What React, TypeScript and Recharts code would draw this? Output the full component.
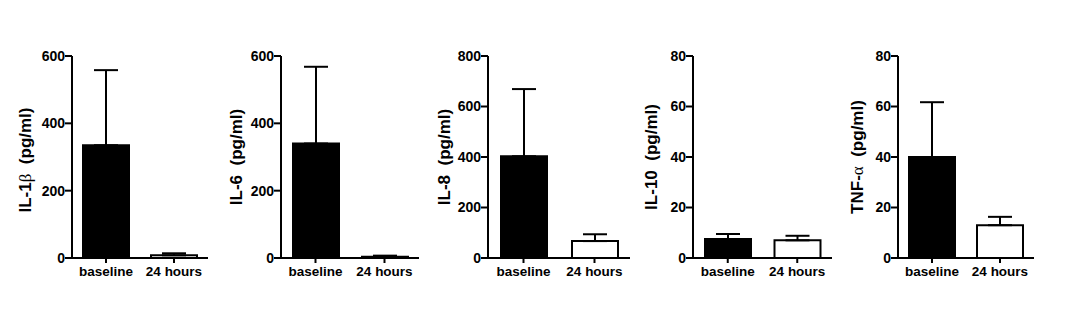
import { BarChart, Bar, XAxis, YAxis, ErrorBar, Cell, Label } from 'recharts';

const groups = ['baseline', '24 hours'];
const fills = ['#000000', '#ffffff'];

const il1bMean = [335, 8];
const il1bSem = [223, 6];
const il6Mean = [340, 4];
const il6Sem = [228, 3];
const il8Mean = [403, 67];
const il8Sem = [266, 27];
const il10Mean = [7.5, 7.0];
const il10Sem = [2.0, 1.8];
const tnfMean = [40, 13];
const tnfSem = [21.7, 3.3];

const ticks600 = [0, 200, 400, 600];
const ticks800 = [0, 200, 400, 600, 800];
const ticks80 = [0, 20, 40, 60, 80];

const font = '"Liberation Sans", Arial, sans-serif';

const panels = [
  { name: 'IL-1', greek: 'β', mean: il1bMean, sem: il1bSem, ticks: ticks600, axisX: 71.7, plotW: 136, labelOff: 47, labelDy: 3 },
  { name: 'IL-6', greek: '', mean: il6Mean, sem: il6Sem, ticks: ticks600, axisX: 281, plotW: 138, labelOff: 45, labelDy: 0 },
  { name: 'IL-8', greek: '', mean: il8Mean, sem: il8Sem, ticks: ticks800, axisX: 488.3, plotW: 142, labelOff: 44, labelDy: 0 },
  { name: 'IL-10', greek: '', mean: il10Mean, sem: il10Sem, ticks: ticks80, axisX: 693.3, plotW: 139, labelOff: 42, labelDy: 0 },
  { name: 'TNF-', greek: 'α', mean: tnfMean, sem: tnfSem, ticks: ticks80, axisX: 898.3, plotW: 136, labelOff: 41, labelDy: 0 },
];

const AXIS_W = 70;
const TOP = 56;
const H = 319;
const X_H = 30;
const BOTTOM = H - 258 - X_H;

function YTitle({ viewBox, name, greek, off, dy }: any) {
  const cx = viewBox.x + viewBox.width - off;
  const cy = viewBox.y + viewBox.height / 2 + dy;
  return (
    <text
      x={cx}
      y={cy}
      transform={`rotate(-90, ${cx}, ${cy})`}
      textAnchor="middle"
      dominantBaseline="central"
      fontFamily={font}
      fontWeight="bold"
      fontSize={17}
      fill="#000"
    >
      {name}
      {greek && <tspan fontFamily='"Liberation Serif", serif' fontWeight="normal">{greek}</tspan>}
      {'\u00a0\u00a0(pg/ml)'}
    </text>
  );
}

function Panel({ p }: any) {
  const data = groups.map((g, i) => ({ group: g, value: p.mean[i], err: [0, p.sem[i]] }));
  const width = AXIS_W + p.plotW + 12;
  const max = p.ticks[p.ticks.length - 1];
  return (
    <div style={{ position: 'absolute', left: p.axisX - AXIS_W, top: 0 }}>
      <BarChart width={width} height={H} data={data} margin={{ top: TOP, right: 12, left: 0, bottom: BOTTOM }} barSize={46}>
        <XAxis
          dataKey="group"
          height={X_H}
          stroke="#000"
          strokeWidth={2}
          tickSize={5}
          tickMargin={3}
          tick={{ fill: '#000', fontFamily: font, fontWeight: 'bold', fontSize: 13.5 }}
          interval={0}
        />
        <YAxis
          width={AXIS_W}
          domain={[0, max]}
          ticks={p.ticks}
          allowDataOverflow
          stroke="#000"
          strokeWidth={2}
          tickSize={7}
          tickMargin={0}
          tick={{ fill: '#000', fontFamily: font, fontWeight: 'bold', fontSize: 14 }}
        >
          <Label content={(lp: any) => <YTitle {...lp} name={p.name} greek={p.greek} off={p.labelOff} dy={p.labelDy} />} />
        </YAxis>
        <Bar dataKey="value" stroke="#000" strokeWidth={2} isAnimationActive={false}>
          {data.map((d, i) => (
            <Cell key={d.group} fill={fills[i]} />
          ))}
          <ErrorBar dataKey="err" direction="y" width={12} stroke="#000" strokeWidth={2} isAnimationActive={false} />
        </Bar>
      </BarChart>
    </div>
  );
}

export default function App() {
  return (
    <div style={{ position: 'absolute', left: 0, top: 0, width: 1080, height: H, background: '#fff', overflow: 'hidden' }}>
      {panels.map((p) => (
        <Panel key={p.name} p={p} />
      ))}
    </div>
  );
}
